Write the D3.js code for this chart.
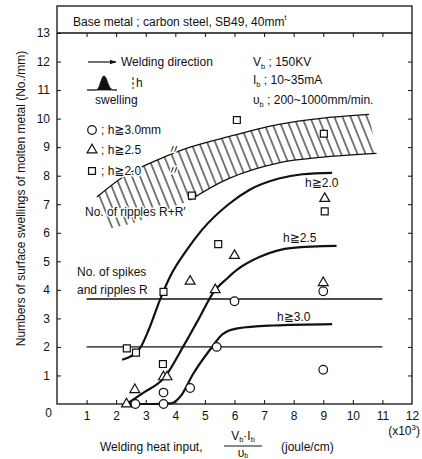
<!DOCTYPE html>
<html>
<head>
<meta charset="utf-8">
<script src="https://cdn.jsdelivr.net/npm/d3@7"></script>
<style>
body { margin: 0; background: #fff; }
svg { display: block; }
text { font-family: "Liberation Sans", "DejaVu Sans", "Noto Sans CJK JP", sans-serif; fill: #111; font-size: 12px; }
.halo { stroke: #fff; stroke-width: 3px; paint-order: stroke; stroke-linejoin: round; }
</style>
</head>
<body>
<svg id="chart" width="422" height="459"></svg>
<script>
// tick values
const xTicks = d3.range(1, 12);
const xLabels = d3.range(1, 13);
const yTicks = d3.range(0, 14);

// measured points [heat input (x10^3 J/cm), swellings per mm]
const circlePts = [[2.65, 0], [3.6, 0], [3.6, 0.4], [4.5, 0.56], [5.4, 2.0], [6.0, 3.6], [9.0, 3.95], [9.0, 1.2]];
const trianglePts = [[2.35, 0], [2.63, 0.5], [3.6, 0.95], [3.72, 0.95], [4.5, 4.3], [5.35, 4.0], [6.0, 5.2], [9.0, 4.25], [9.05, 7.2]];
const squarePts = [[2.36, 1.95], [2.67, 1.8], [3.58, 1.4], [3.6, 3.93], [5.45, 5.6], [4.56, 7.3], [6.08, 9.95], [9.02, 9.47], [9.05, 6.75]];

// fitted curves
const curve20 = [[2.2, 1.55], [2.8, 1.95], [3.1, 2.6], [3.48, 3.65], [3.82, 4.46], [4.39, 5.4], [4.9, 6.1], [5.8, 7.0], [6.5, 7.5], [7.5, 7.9], [8.3, 8.05], [9.3, 8.1]];
const curve25 = [[2.35, 0], [2.9, 0.38], [3.65, 0.95], [4.26, 2.0], [4.8, 3.0], [5.3, 3.93], [5.75, 4.4], [6.08, 4.7], [6.86, 5.16], [7.97, 5.47], [9.45, 5.54]];
const curve30 = [[2.35, 0], [3.2, 0], [3.85, 0.02], [4.2, 0.3], [4.6, 1.05], [5.17, 1.9], [5.6, 2.45], [6.1, 2.65], [7.3, 2.75], [9.3, 2.8]];

// hatched band R + R'
const bandUpper = [[1.35, 7.25], [2.3, 8.0], [3.5, 8.6], [4.5, 9.0], [5.8, 9.37], [7.5, 9.8], [9.0, 10.02], [10.55, 10.15]];
const bandLower = [[1.8, 6.15], [2.6, 6.35], [3.5, 6.7], [4.5, 7.15], [5.8, 7.9], [7.5, 8.45], [9.0, 8.65], [10.8, 8.78]];

// horizontal levels: spikes+ripples R, and lower level
const levels = [3.68, 2.0];

const svg = d3.select("#chart");
const x = d3.scaleLinear().domain([0, 12]).range([57, 412]);
const y = d3.scaleLinear().domain([0, 13]).range([404, 33]);
const ink = "#111";

const defs = svg.append("defs");
defs.append("pattern")
    .attr("id", "hatch")
    .attr("patternUnits", "userSpaceOnUse")
    .attr("width", 7.5).attr("height", 10)
    .attr("patternTransform", "rotate(-22)")
    .append("line")
    .attr("x1", 3.75).attr("y1", -1).attr("x2", 3.75).attr("y2", 11)
    .attr("stroke", ink).attr("stroke-width", 1.1);
defs.append("marker")
    .attr("id", "arrow")
    .attr("viewBox", "0 -5 10 10")
    .attr("refX", 9).attr("refY", 0)
    .attr("markerWidth", 7).attr("markerHeight", 7)
    .attr("markerUnits", "userSpaceOnUse")
    .attr("orient", "auto")
    .append("path").attr("d", "M0,-3.5L10,0L0,3.5Z").attr("fill", ink);

// frame + header box
svg.append("rect")
    .attr("x", 57).attr("y", 6).attr("width", 412 - 57).attr("height", 404 - 6)
    .attr("fill", "none").attr("stroke", ink).attr("stroke-width", 1.3);
svg.append("line")
    .attr("x1", 57).attr("x2", 412).attr("y1", y(13)).attr("y2", y(13))
    .attr("stroke", ink).attr("stroke-width", 1.3);

// axes (inward ticks)
const gx = svg.append("g").attr("transform", "translate(0,404)")
    .call(d3.axisBottom(x).tickValues(xLabels).tickSize(-4).tickPadding(7).tickFormat(d3.format("d")));
const gy = svg.append("g").attr("transform", "translate(57,0)")
    .call(d3.axisLeft(y).tickValues(yTicks).tickSize(-4).tickPadding(7).tickFormat(d3.format("d")));
svg.append("g").attr("transform", "translate(412,0)")
    .call(d3.axisRight(y).tickValues(d3.range(1, 13)).tickSize(-4).tickFormat(""));
svg.append("g").attr("transform", `translate(0,${y(13)})`)
    .call(d3.axisTop(x).tickValues(xTicks).tickSize(-4).tickFormat(""));
svg.selectAll(".domain").remove();
svg.selectAll(".tick line").attr("stroke", ink).attr("stroke-width", 1);
svg.selectAll(".tick text").attr("font-size", 12).attr("font-family", null).attr("fill", ink);
gx.selectAll(".tick").filter(d => d === 12).select("line").remove();
gy.selectAll(".tick").filter(d => d === 0).select("line").remove();
gy.selectAll(".tick").filter(d => d === 0).select("text").attr("dy", "1.0em").attr("x", -5);

// band
const bandLine = d3.line().x(d => x(d[0])).y(d => y(d[1])).curve(d3.curveCatmullRom);
const bandPath = bandLine(bandUpper) + "L" + bandLine(bandLower.slice().reverse()).slice(1) + "Z";
svg.append("path").attr("d", bandPath).attr("fill", "url(#hatch)");
svg.append("path").attr("d", bandLine(bandUpper)).attr("fill", "none").attr("stroke", ink).attr("stroke-width", 1.3);
svg.append("path").attr("d", bandLine(bandLower.filter(d => d[0] >= 4.2)))
    .attr("fill", "none").attr("stroke", ink).attr("stroke-width", 1.3);

// horizontal levels
svg.selectAll(".level").data(levels).enter().append("line")
    .attr("x1", x(1)).attr("x2", x(11))
    .attr("y1", d => y(d)).attr("y2", d => y(d))
    .attr("stroke", ink).attr("stroke-width", 1.4);

// curves
const curveLine = d3.line().x(d => x(d[0])).y(d => y(d[1])).curve(d3.curveMonotoneX);
[curve20, curve25, curve30].forEach(c => {
    svg.append("path").attr("d", curveLine(c))
        .attr("fill", "none").attr("stroke", ink).attr("stroke-width", 2.2);
});

// markers
function drawCircle(g, px, py) {
    g.append("circle").attr("cx", px).attr("cy", py).attr("r", 4.3)
        .attr("fill", "#fff").attr("stroke", ink).attr("stroke-width", 1.2);
}
function drawTri(g, px, py) {
    g.append("path").attr("d", d3.symbol(d3.symbolTriangle, 42)())
        .attr("transform", `translate(${px},${py})`)
        .attr("fill", "#fff").attr("stroke", ink).attr("stroke-width", 1.2);
}
function drawSq(g, px, py) {
    g.append("path").attr("d", d3.symbol(d3.symbolSquare, 48)())
        .attr("transform", `translate(${px},${py})`)
        .attr("fill", "#fff").attr("stroke", ink).attr("stroke-width", 1.2);
}
const mk = svg.append("g");
circlePts.forEach(d => drawCircle(mk, x(d[0]), y(d[1])));
trianglePts.forEach(d => drawTri(mk, x(d[0]), y(d[1])));
squarePts.forEach(d => drawSq(mk, x(d[0]), y(d[1])));

// header text
const hdr = svg.append("text").attr("x", 73).attr("y", 26).attr("font-size", 13);
hdr.append("tspan").text("Base metal ; carbon steel, SB49, 40mm");
hdr.append("tspan").attr("font-size", 7).attr("dy", -6).text("t");

// welding direction + swelling sketch
svg.append("line").attr("x1", 88).attr("x2", 116).attr("y1", 62).attr("y2", 62)
    .attr("stroke", ink).attr("stroke-width", 1.2).attr("marker-end", "url(#arrow)");
svg.append("text").attr("x", 121).attr("y", 66).attr("font-size", 12.5).text("Welding direction");
svg.append("path")
    .attr("d", "M87,90 L96,90 C100,90 101,76 104,76 C107,76 108,89 113,90 L117,90 Z")
    .attr("fill", ink).attr("stroke", ink).attr("stroke-width", 0.8);
svg.append("line").attr("x1", 133).attr("x2", 133).attr("y1", 77).attr("y2", 89)
    .attr("stroke", ink).attr("stroke-width", 1).attr("stroke-dasharray", "3,2");
svg.append("text").attr("x", 136).attr("y", 87).attr("font-size", 12).text("h");
svg.append("text").attr("x", 95).attr("y", 104).attr("font-size", 12.5).text("swelling");

// welding conditions
function condLine(ty, sym, rest) {
    const t = svg.append("text").attr("x", 253).attr("y", ty).attr("font-size", 12.5);
    t.append("tspan").text(sym);
    t.append("tspan").attr("font-size", 7.5).attr("dy", 3).text("b");
    t.append("tspan").attr("dy", -3).text(rest);
}
condLine(66, "V", " ; 150KV");
condLine(84, "I", " ; 10~35mA");
condLine(104, "\u03c5", " ; 200~1000mm/min.");

// symbol legend
const lg = svg.append("g");
drawCircle(lg, 92, 130);
drawTri(lg, 92, 150);
drawSq(lg, 92, 171);
lg.append("text").attr("class", "halo").attr("x", 101).attr("y", 134).text("; h\u22673.0mm");
lg.append("text").attr("class", "halo").attr("x", 101).attr("y", 154).text("; h\u22672.5");
lg.append("text").attr("class", "halo").attr("x", 101).attr("y", 175).text("; h\u22672.0");
lg.append("text").attr("class", "halo").attr("x", 168).attr("y", 154).text("\u3003");
lg.append("text").attr("class", "halo").attr("x", 168).attr("y", 175).text("\u3003");

// annotations
svg.append("text").attr("class", "halo").attr("x", 85).attr("y", 216).attr("font-size", 12.5).text("No. of ripples R+R\u2032");
svg.append("text").attr("x", 77).attr("y", 276).attr("font-size", 12.5).text("No. of spikes");
svg.append("text").attr("x", 77).attr("y", 294).attr("font-size", 12.5).text("and ripples R");
svg.append("text").attr("x", 305).attr("y", 187).attr("font-size", 13).text("h\u22672.0");
svg.append("text").attr("x", 283).attr("y", 242).attr("font-size", 13).text("h\u22672.5");
svg.append("text").attr("x", 277).attr("y", 321).attr("font-size", 13).text("h\u22673.0");

// axis titles
svg.append("text")
    .attr("transform", `translate(25,${(y(0) + y(13)) / 2 - 20}) rotate(-90)`)
    .attr("text-anchor", "middle").attr("font-size", 12.5)
    .text("Numbers of surface swellings of molten metal (No./mm)");

const unit = svg.append("text").attr("x", 420).attr("y", 435).attr("text-anchor", "end").attr("font-size", 12);
unit.append("tspan").text("(x10");
unit.append("tspan").attr("font-size", 8).attr("dy", -5).text("3");
unit.append("tspan").attr("dy", 5).text(")");

svg.append("text").attr("x", 100).attr("y", 451).attr("font-size", 12.5).text("Welding heat input,");
const num = svg.append("text").attr("x", 243).attr("y", 440).attr("text-anchor", "middle").attr("font-size", 11.5);
num.append("tspan").text("V");
num.append("tspan").attr("font-size", 7.5).attr("dy", 2).text("b");
num.append("tspan").attr("dy", -2).text("\u00b7I");
num.append("tspan").attr("font-size", 7.5).attr("dy", 2).text("b");
svg.append("line").attr("x1", 224).attr("x2", 262).attr("y1", 446).attr("y2", 446)
    .attr("stroke", ink).attr("stroke-width", 1);
const den = svg.append("text").attr("x", 243).attr("y", 457).attr("text-anchor", "middle").attr("font-size", 10.5);
den.append("tspan").text("\u03c5");
den.append("tspan").attr("font-size", 7).attr("dy", 1).text("b");
svg.append("text").attr("x", 281).attr("y", 451).attr("font-size", 12.5).text("(joule/cm)");
</script>
</body>
</html>
